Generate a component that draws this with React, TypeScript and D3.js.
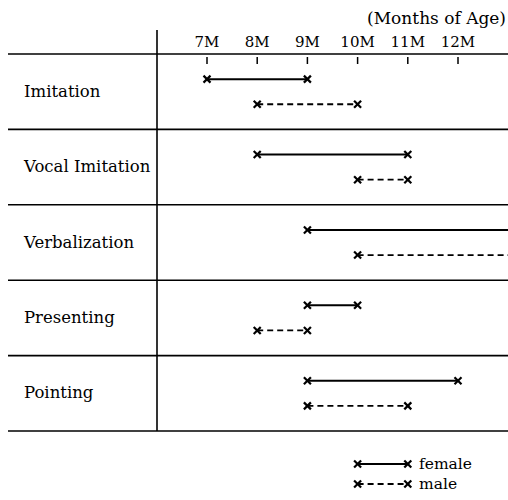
import React from "react";
import * as d3 from "d3";

const categories = ["Imitation", "Vocal Imitation", "Verbalization", "Presenting", "Pointing"];
const femaleStart = [7, 8, 9, 9, 9];
const femaleEnd: (number | null)[] = [9, 11, null, 10, 12];
const maleStart = [8, 10, 10, 8, 9];
const maleEnd: (number | null)[] = [10, 11, null, 9, 11];
const monthTicks = [7, 8, 9, 10, 11, 12];
const tickLabels = ["7M", "8M", "9M", "10M", "11M", "12M"];

const W = 508;
const H = 500;
const FONT = "'DejaVu Serif', serif";

function Cross({ x, y }: { x: number; y: number }) {
  const s = 3.5;
  return (
    <g stroke="#000" strokeWidth={2.2}>
      <line x1={x - s} y1={y - s} x2={x + s} y2={y + s} />
      <line x1={x - s} y1={y + s} x2={x + s} y2={y - s} />
    </g>
  );
}

export default function App() {
  const x = d3.scaleLinear().domain([7, 12]).range([207, 458]);
  const y = d3.scaleBand<string>().domain(categories).range([54, 431]);
  const bw = y.bandwidth();
  const leftX = 8;
  const axisX = 157;

  const seg = (s: number, e: number | null, yy: number, dashed: boolean, key: string) => {
    const x1 = x(s);
    const x2 = e == null ? W : x(e);
    return (
      <g key={key}>
        <line
          x1={x1}
          x2={x2}
          y1={yy}
          y2={yy}
          stroke="#000"
          strokeWidth={dashed ? 1.8 : 2}
          strokeDasharray={dashed ? "6,4" : undefined}
        />
        <Cross x={x1} y={yy} />
        {e != null && <Cross x={x2} y={yy} />}
      </g>
    );
  };

  return (
    <svg
      width={W}
      height={H}
      style={{ position: "absolute", left: 0, top: 0, background: "#fff", display: "block" }}
      fontFamily={FONT}
    >
      <rect width={W} height={H} fill="#fff" />
      <text x={506} y={24} textAnchor="end" fontSize={17} fill="#000">
        (Months of Age)
      </text>
      {monthTicks.map((m, i) => (
        <g key={m}>
          <text x={x(m)} y={47} textAnchor="middle" fontSize={15} fill="#000">
            {tickLabels[i]}
          </text>
          <line x1={x(m)} x2={x(m)} y1={57} y2={64} stroke="#000" strokeWidth={1.5} />
        </g>
      ))}
      <line x1={axisX} x2={axisX} y1={30} y2={431} stroke="#000" strokeWidth={1.6} />
      <line x1={leftX} x2={W} y1={54} y2={54} stroke="#000" strokeWidth={1.6} />
      {categories.map((c, i) => {
        const top = y(c)!;
        return (
          <g key={c}>
            <line x1={leftX} x2={W} y1={top + bw} y2={top + bw} stroke="#000" strokeWidth={1.6} />
            <text x={24} y={top + bw / 2 + 5} fontSize={16.5} fill="#000">
              {c}
            </text>
            {seg(femaleStart[i], femaleEnd[i], top + bw / 3, false, "f" + i)}
            {seg(maleStart[i], maleEnd[i], top + (2 * bw) / 3, true, "m" + i)}
          </g>
        );
      })}
      <g>
        {seg(10, 11, 464, false, "lf")}
        <text x={419} y={469} fontSize={15.5} fill="#000">female</text>
        {seg(10, 11, 484, true, "lm")}
        <text x={419} y={489} fontSize={15.5} fill="#000">male</text>
      </g>
    </svg>
  );
}
